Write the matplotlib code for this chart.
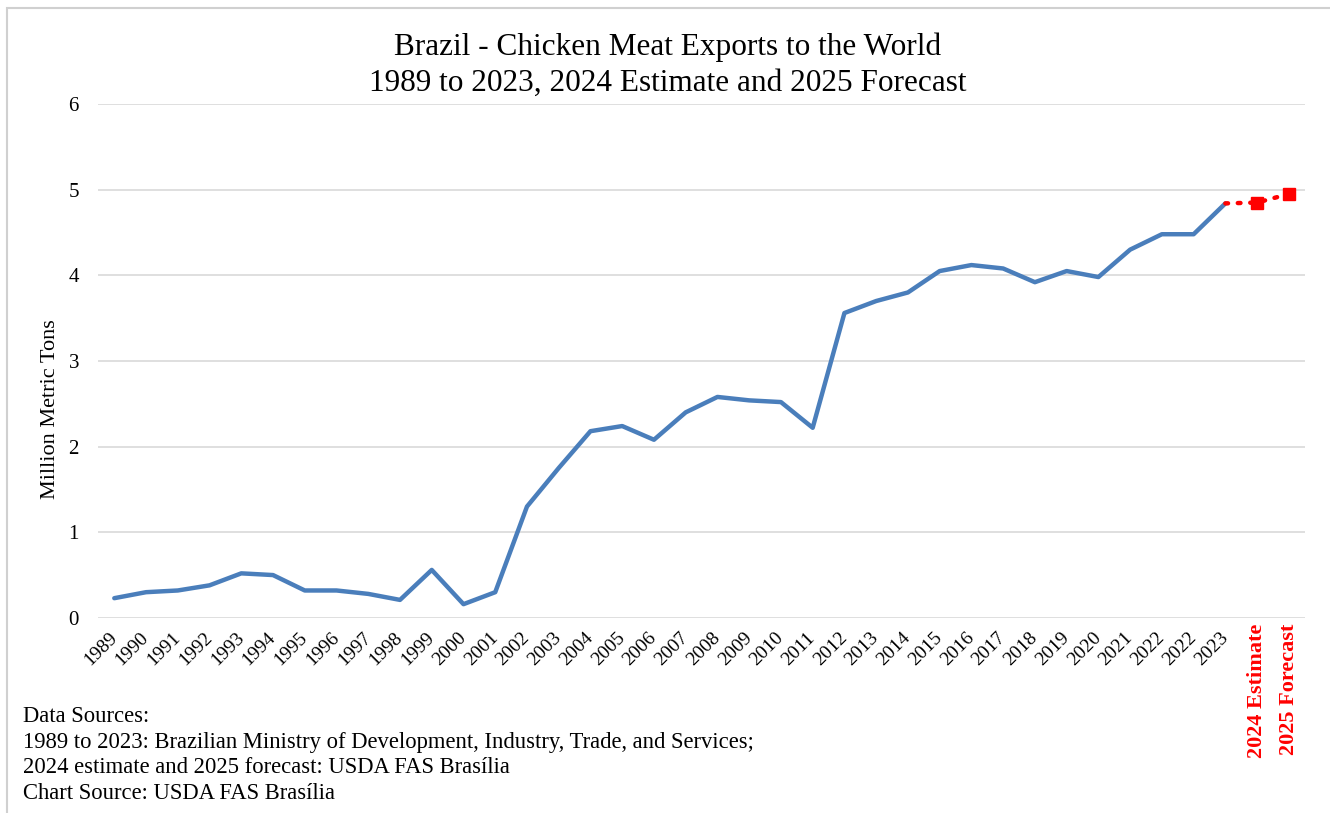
import matplotlib.pyplot as plt
from matplotlib.patches import Rectangle
from matplotlib.transforms import ScaledTranslation

plt.rcParams['font.family'] = ['Liberation Serif', 'DejaVu Serif']

# yearly exports, million metric tons
years = ['1989', '1990', '1991', '1992', '1993', '1994', '1995', '1996', '1997',
         '1998', '1999', '2000', '2001', '2002', '2003', '2004', '2005', '2006',
         '2007', '2008', '2009', '2010', '2011', '2012', '2013', '2014', '2015',
         '2016', '2017', '2018', '2019', '2020', '2021', '2022', '2022', '2023']
exports = [0.23, 0.30, 0.32, 0.38, 0.52, 0.50, 0.32, 0.32, 0.28,
           0.21, 0.56, 0.16, 0.30, 1.30, 1.75, 2.18, 2.24, 2.08,
           2.40, 2.58, 2.54, 2.52, 2.22, 3.56, 3.70, 3.80, 4.05,
           4.12, 4.08, 3.92, 4.05, 3.98, 4.30, 4.48, 4.48, 4.84]

proj_labels = ['2024 Estimate', '2025 Forecast']
proj_values = [4.85, 4.95]

fig = plt.figure(figsize=(13.3, 8.13), dpi=100)
ax = fig.add_axes([0.074, 0.24, 0.907, 0.632])

n = len(years)
x_hist = list(range(n))
ax.plot(x_hist, exports, color='#4a7ebb', linewidth=3.2, solid_capstyle='round', zorder=3)

# projection: dotted link from last actual year, squares on projected points
x_proj = [n - 1, n, n + 1]
ax.plot(x_proj, [exports[-1]] + proj_values, color='red', linewidth=3.2,
        linestyle=(0, (0.6, 2.2)), dash_capstyle='round', zorder=3)
ax.plot(x_proj[1:], proj_values, linestyle='none', marker='s', markersize=9,
        color='red', zorder=4)

ax.set_xlim(-0.5, n + 1.5)
ax.set_ylim(0, 6)
ax.set_yticks(range(7))
ax.tick_params(axis='y', length=0, labelsize=15, pad=14)
ax.grid(axis='y', color='#d9d9d9', linewidth=1.2)
ax.set_axisbelow(True)
for s in ax.spines.values():
    s.set_visible(False)

ax.set_xticks(x_hist + x_proj[1:])
labels = ax.set_xticklabels(years + proj_labels)
ax.tick_params(axis='x', length=0, labelsize=14, pad=4)
shift = ScaledTranslation(-6 / 100, -6 / 100, fig.dpi_scale_trans)
for lab in labels[:n]:
    lab.set_rotation(45)
    lab.set_ha('right')
    lab.set_va('top')
    lab.set_rotation_mode('anchor')
    lab.set_transform(lab.get_transform() + shift)
for lab in labels[n:]:
    lab.set_rotation(90)
    lab.set_color('red')
    lab.set_fontweight('bold')
    lab.set_fontsize(16)
    lab.set_va('top')
    lab.set_ha('center')

ax.set_ylabel('Million Metric Tons', fontsize=16)
ax.yaxis.set_label_coords(-0.032, 0.407)

fig.text(0.502, 0.96, 'Brazil - Chicken Meat Exports to the World\n'
         '1989 to 2023, 2024 Estimate and 2025 Forecast',
         ha='center', va='top', fontsize=22.5, linespacing=1.3)

fig.text(0.017, 0.131, 'Data Sources:\n'
         '1989 to 2023: Brazilian Ministry of Development, Industry, Trade, and Services;\n'
         '2024 estimate and 2025 forecast: USDA FAS Brasília\n'
         'Chart Source: USDA FAS Brasília',
         ha='left', va='top', fontsize=16.3, linespacing=1.28)

# thin frame around the chart area
fig.patches.append(Rectangle((0.005, -0.01), 1.2, 1.0, transform=fig.transFigure,
                             fill=False, edgecolor='#d0d0d0', linewidth=1.5))

fig.savefig('out.png', dpi=100)
